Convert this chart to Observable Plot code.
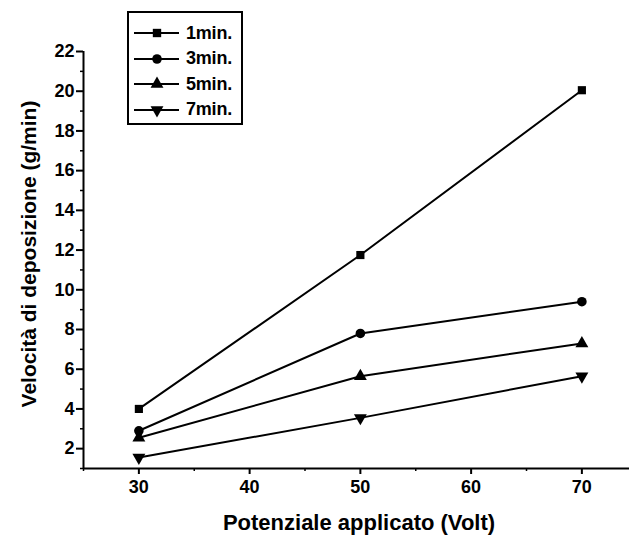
<!DOCTYPE html>
<html>
<head>
<meta charset="utf-8">
<script src="https://cdn.jsdelivr.net/npm/d3@7"></script>
<script src="https://cdn.jsdelivr.net/npm/@observablehq/plot@0.6"></script>
<style>
  html, body { margin: 0; padding: 0; background: #fff; }
  #wrap { position: relative; width: 630px; height: 539px; font-family: "Liberation Sans", Arial, sans-serif; }
  #legend { position: absolute; left: 127px; top: 11px; width: 112px; height: 110px; border: 2px solid #000; box-sizing: content-box; }
  .row { position: absolute; left: 0; height: 24px; display: flex; align-items: center; }
  .row span { font-weight: bold; font-size: 18px; margin-left: 5px; letter-spacing: -0.2px; }
  svg text { font-family: "Liberation Sans", Arial, sans-serif; font-weight: bold; }
</style>
</head>
<body>
<div id="wrap"><div id="chart"></div><div id="legend"></div></div>
<script>
const voltages = [30, 50, 70];
const seriesNames = ["1min.", "3min.", "5min.", "7min."];
const v1min = [4.0, 11.75, 20.05];
const v3min = [2.9, 7.8, 9.4];
const v5min = [2.55, 5.65, 7.3];
const v7min = [1.55, 3.55, 5.65];
const symbols = ["square", "circle", "triangle", "triangle"];
const rotations = [0, 0, 0, 180];
const yTicks = [2, 4, 6, 8, 10, 12, 14, 16, 18, 20, 22];
const yMinor = [1, 3, 5, 7, 9, 11, 13, 15, 17, 19, 21];
const xTicks = [30, 40, 50, 60, 70];
const xMinor = [25, 35, 45, 55, 65];

const allValues = [v1min, v3min, v5min, v7min];
const data = [];
seriesNames.forEach((s, i) => voltages.forEach((v, j) => data.push({series: s, idx: i, x: v, y: allValues[i][j]})));

const font = "Liberation Sans, Arial, sans-serif";
const marks = [
  Plot.ruleX([25], {stroke: "#000", strokeWidth: 2}),
  Plot.ruleY([1], {stroke: "#000", strokeWidth: 2}),
  Plot.axisY(yTicks, {tickSize: 7, tickPadding: 2, fontSize: 18, fontWeight: "bold", label: null, strokeWidth: 2}),
  Plot.axisY(yMinor, {tickSize: 3, text: null, label: null, strokeWidth: 1.5}),
  Plot.axisX(xTicks, {tickSize: 6, tickPadding: 6, fontSize: 18, fontWeight: "bold", label: null, strokeWidth: 2}),
  Plot.axisX(xMinor, {tickSize: 3, text: null, label: null, strokeWidth: 1.5}),
  Plot.line(data, {x: "x", y: "y", z: "series", stroke: "#000", strokeWidth: 2})
];
seriesNames.forEach((s, i) => {
  marks.push(Plot.dot(data.filter(d => d.idx === i), {x: "x", y: "y", symbol: symbols[i], rotate: rotations[i], r: i === 0 ? 4.6 : 4.8, fill: "#000", stroke: "none"}));
});

const plot = Plot.plot({
  width: 630,
  height: 539,
  marginLeft: 83,
  marginRight: 1,
  marginTop: 51,
  marginBottom: 71,
  style: {fontFamily: font, fontWeight: "bold", fontSize: "18px", color: "#000", background: "#fff", overflow: "visible"},
  x: {domain: [25, 74.3]},
  y: {domain: [1, 22]},
  marks
});
const svg = d3.select(plot);
svg.selectAll("text").style("font-weight", "bold").style("font-size", "18px");
svg.append("text").attr("x", 359).attr("y", 530).attr("text-anchor", "middle")
  .style("font-size", "22px").text("Potenziale applicato (Volt)");
svg.append("text").attr("transform", "translate(36,254) rotate(-90)").attr("text-anchor", "middle")
  .style("font-size", "21px").text("Velocità di deposizione (g/min)");
document.getElementById("chart").appendChild(plot);

const legend = document.getElementById("legend");
const symPaths = [d3.symbol(d3.symbolSquare, 70)(), d3.symbol(d3.symbolCircle, 72)(), d3.symbol(d3.symbolTriangle, 72)(), d3.symbol(d3.symbolTriangle, 72)()];
seriesNames.forEach((s, i) => {
  const row = document.createElement("div");
  row.className = "row";
  row.style.top = (8 + i * 25.5) + "px";
  row.innerHTML = `<svg width="52" height="24"><line x1="5" x2="50" y1="12" y2="12" stroke="#000" stroke-width="2"/><path d="${symPaths[i]}" transform="translate(28,12) rotate(${rotations[i]})" fill="#000"/></svg><span>${s}</span>`;
  legend.appendChild(row);
});
</script>
</body>
</html>
